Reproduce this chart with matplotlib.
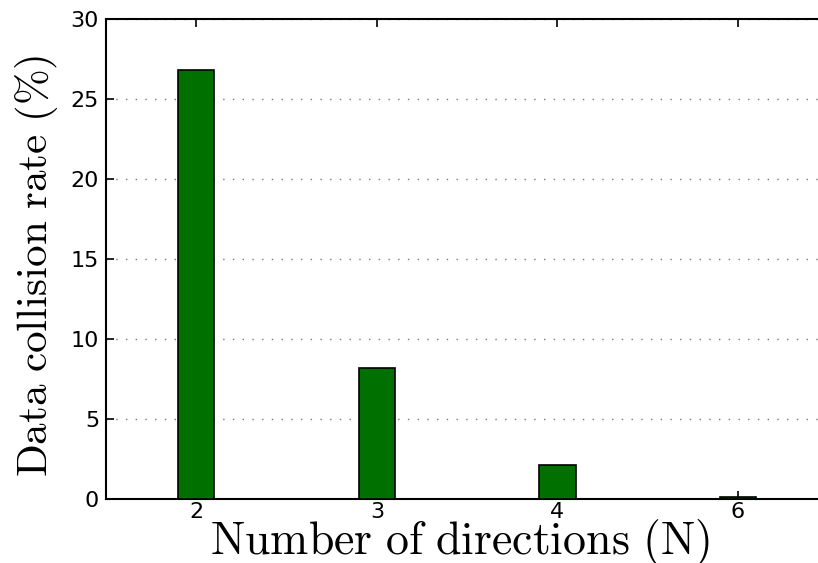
import matplotlib
matplotlib.use('Agg')
import matplotlib.pyplot as plt
import numpy as np

# Dados
direcoes = ['2', '3', '4', '6']
colisao = [26.8, 8.2, 2.1, 0.15]

plt.rcParams['mathtext.fontset'] = 'cm'
plt.rcParams['font.family'] = ['DejaVu Sans']

fig = plt.figure(figsize=(8.18, 5.63), dpi=100)
ax = fig.add_axes([0.1296, 0.1137, 0.883, 0.8526])

x = np.arange(1, len(direcoes) + 1)
ax.bar(x, colisao, width=0.2, color='#007000', edgecolor='black', linewidth=1.2, zorder=3)

ax.set_xlim(0.5, 4.5)
ax.set_ylim(0, 30)
ax.set_xticks(x)
ax.set_xticklabels(direcoes)
ax.set_yticks([0, 5, 10, 15, 20, 25, 30])
ax.tick_params(direction='in', top=True, right=False, labelsize=16, length=6, width=1.2)
ax.tick_params(axis='x', pad=2)
ax.tick_params(axis='y', pad=5)
ax.yaxis.grid(True, linestyle=(0, (1, 6)), color='#777777', linewidth=1)
ax.set_axisbelow(True)
for s in ax.spines.values():
    s.set_linewidth(1.5)

ax.set_xlabel(r'$\mathrm{Number\ of\ directions\ (N)}$', fontsize=33)
ax.xaxis.set_label_coords(0.49, -0.038)
ax.set_ylabel(r'$\mathrm{Data\ collision\ rate\ (\%)}$', fontsize=31)
ax.yaxis.set_label_coords(-0.064, 0.485)

fig.savefig('out.png', dpi=100)
